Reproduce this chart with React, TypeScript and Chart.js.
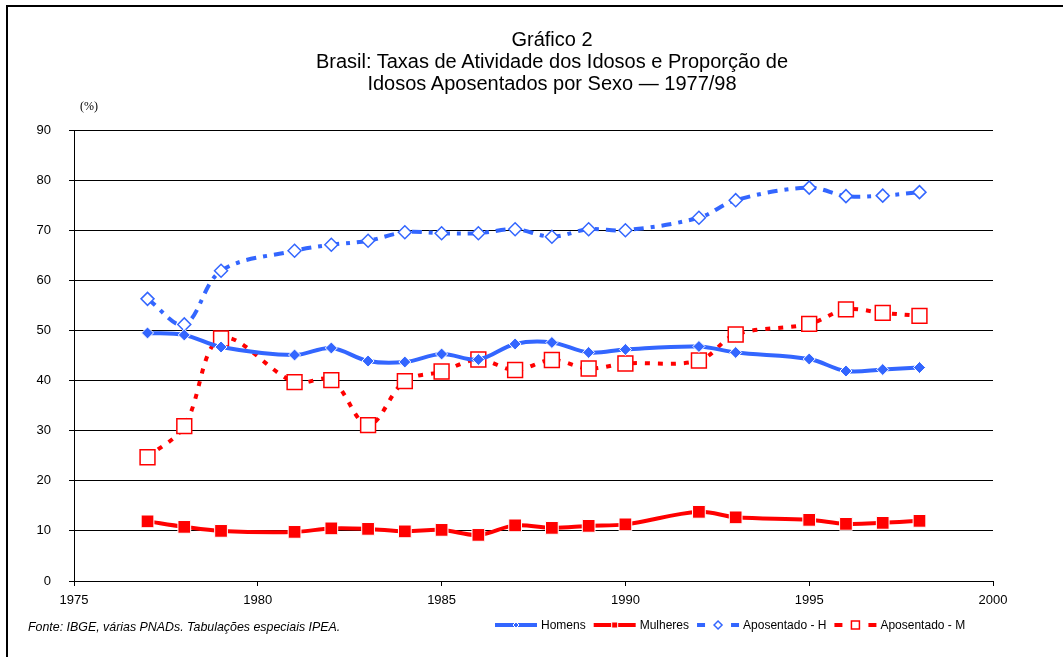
import React, { useEffect, useRef } from "react";
import { Chart, registerables } from "chart.js";
Chart.register(...registerables);

const years = [1977, 1978, 1979, 1981, 1982, 1983, 1984, 1985, 1986, 1987, 1988, 1989, 1990, 1992, 1993, 1995, 1996, 1997, 1998];
const homens = [49.5, 49.1, 46.7, 45.1, 46.5, 43.9, 43.7, 45.3, 44.2, 47.3, 47.6, 45.6, 46.2, 46.8, 45.6, 44.3, 41.9, 42.2, 42.6];
const mulheres = [11.9, 10.8, 10.0, 9.8, 10.5, 10.4, 9.9, 10.2, 9.2, 11.1, 10.6, 11.0, 11.3, 13.8, 12.7, 12.2, 11.4, 11.6, 12.0];
const aposentadoH = [56.3, 51.2, 61.9, 65.9, 67.1, 67.9, 69.6, 69.4, 69.4, 70.2, 68.7, 70.2, 70.0, 72.5, 76.0, 78.5, 76.8, 76.9, 77.6];
const aposentadoM = [24.7, 30.9, 48.4, 39.7, 40.1, 31.1, 39.9, 41.8, 44.2, 42.1, 44.1, 42.4, 43.4, 44.0, 49.2, 51.3, 54.2, 53.5, 52.9];

const seriesLabels = ["Homens", "Mulheres", "Aposentado - H", "Aposentado - M"];
const titleLines = [
  "Gráfico 2",
  "Brasil: Taxas de Atividade dos Idosos e Proporção de",
  "Idosos Aposentados por Sexo — 1977/98",
];
const sourceNote = "Fonte: IBGE, várias PNADs. Tabulações especiais IPEA.";
const unitLabel = "(%)";

const BLUE = "#3366ff";
const RED = "#ff0000";
const FONT = '"Liberation Sans", Arial, sans-serif';

const toPoints = (vals: number[]) => years.map((y, i) => ({ x: y, y: vals[i] }));

function drawMarker(ctx: CanvasRenderingContext2D, kind: string, cx: number, cy: number, r: number, fill: string, stroke: string, lw: number) {
  ctx.beginPath();
  if (kind === "diamond") {
    ctx.moveTo(cx - r, cy);
    ctx.lineTo(cx, cy - r);
    ctx.lineTo(cx + r, cy);
    ctx.lineTo(cx, cy + r);
    ctx.closePath();
  } else {
    ctx.rect(cx - r, cy - r, 2 * r, 2 * r);
  }
  ctx.fillStyle = fill;
  ctx.fill();
  ctx.lineWidth = lw;
  ctx.strokeStyle = stroke;
  ctx.stroke();
}

const legendPlugin = {
  id: "customLegend",
  afterDraw(chart: any) {
    const ctx: CanvasRenderingContext2D = chart.ctx;
    const y = 625;
    let x = 495;
    ctx.save();
    ctx.font = `12px ${FONT}`;
    ctx.textBaseline = "middle";
    chart.data.datasets.forEach((ds: any) => {
      ctx.strokeStyle = ds.borderColor;
      ctx.lineWidth = 4;
      ctx.setLineDash(ds.legendDash || []);
      ctx.beginPath();
      ctx.moveTo(x, y);
      ctx.lineTo(x + 42, y);
      ctx.stroke();
      ctx.setLineDash([]);
      drawMarker(ctx, ds.markerKind, x + 21, y, ds.legendR, ds.pointBackgroundColor, ds.legendStroke, ds.legendLw);
      ctx.fillStyle = "#000";
      ctx.fillText(ds.label, x + 46, y + 1);
      x += 46 + ctx.measureText(ds.label).width + 8;
    });
    ctx.restore();
  },
};

export default function App() {
  const canvasRef = useRef<HTMLCanvasElement | null>(null);

  useEffect(() => {
    if (!canvasRef.current) return;
    const chart = new Chart(canvasRef.current, {
      type: "line",
      data: {
        datasets: [
          {
            label: seriesLabels[0],
            data: toPoints(homens),
            borderColor: BLUE,
            borderWidth: 4,
            tension: 0.35,
            pointStyle: "rectRot",
            pointRadius: 6,
            pointBackgroundColor: BLUE,
            pointBorderColor: "#ffffff",
            pointBorderWidth: 1,
            markerKind: "diamond",
            legendR: 3,
            legendStroke: "#ffffff",
            legendLw: 1,
          } as any,
          {
            label: seriesLabels[1],
            data: toPoints(mulheres),
            borderColor: RED,
            borderWidth: 4,
            tension: 0.35,
            pointStyle: "rect",
            pointRadius: 9,
            pointBackgroundColor: RED,
            pointBorderColor: "#ffffff",
            pointBorderWidth: 1,
            markerKind: "square",
            legendR: 3,
            legendStroke: "#ffffff",
            legendLw: 1,
          } as any,
          {
            label: seriesLabels[2],
            data: toPoints(aposentadoH),
            borderColor: BLUE,
            borderWidth: 4,
            borderDash: [10, 7, 4, 7],
            tension: 0.35,
            pointStyle: "rectRot",
            pointRadius: 6.5,
            pointBackgroundColor: "#ffffff",
            pointBorderColor: BLUE,
            pointBorderWidth: 1.5,
            markerKind: "diamond",
            legendR: 4,
            legendStroke: BLUE,
            legendLw: 1.5,
            legendDash: [8, 26],
          } as any,
          {
            label: seriesLabels[3],
            data: toPoints(aposentadoM),
            borderColor: RED,
            borderWidth: 4,
            borderDash: [5, 8],
            tension: 0.35,
            pointStyle: "rect",
            pointRadius: 10.5,
            pointBackgroundColor: "#ffffff",
            pointBorderColor: RED,
            pointBorderWidth: 1.5,
            markerKind: "square",
            legendR: 4,
            legendStroke: RED,
            legendLw: 1.5,
            legendDash: [8, 26],
          } as any,
        ],
      },
      options: {
        responsive: false,
        animation: false,
        devicePixelRatio: 1,
        layout: { padding: { top: 130, right: 70, left: 0, bottom: 0 } },
        plugins: { legend: { display: false }, title: { display: false }, tooltip: { enabled: false } },
        scales: {
          x: {
            type: "linear",
            min: 1975,
            max: 2000,
            afterFit: (s: any) => {
              s.height = 76;
            },
            ticks: {
              stepSize: 5,
              color: "#000",
              font: { family: FONT, size: 13 },
              padding: 7,
              maxRotation: 0,
              callback: (v: any) => String(v),
            },
            grid: { drawOnChartArea: false, drawTicks: true, tickLength: 5, color: "#000" },
            border: { display: true, color: "#000", width: 1 },
          },
          y: {
            min: 0,
            max: 90,
            afterFit: (s: any) => {
              s.width = 74;
            },
            ticks: {
              stepSize: 10,
              color: "#000",
              font: { family: FONT, size: 13 },
              padding: 18,
            },
            grid: { drawOnChartArea: true, drawTicks: true, tickLength: 5, color: "#000", lineWidth: 1 },
            border: { display: true, color: "#000", width: 1 },
          },
        },
      },
      plugins: [legendPlugin],
    } as any);
    return () => chart.destroy();
  }, []);

  return (
    <div style={{ position: "absolute", left: 0, top: 0, width: 1063, height: 657, background: "#fff", overflow: "hidden" }}>
      <canvas ref={canvasRef} width={1063} height={657} style={{ position: "absolute", left: 0, top: 0, width: 1063, height: 657 }} />
      <div style={{ position: "absolute", left: 6, top: 5, width: 1100, height: 700, borderTop: "2px solid #000", borderLeft: "2px solid #000", pointerEvents: "none" }} />
      <div style={{ position: "absolute", left: 252, top: 28, width: 600, textAlign: "center", fontFamily: FONT, fontSize: 20, lineHeight: "22px", color: "#000" }}>
        {titleLines.map((t, i) => (
          <div key={i}>{t}</div>
        ))}
      </div>
      <div style={{ position: "absolute", left: 80, top: 99, fontFamily: '"Liberation Serif", "Times New Roman", serif', fontSize: 12, color: "#000" }}>{unitLabel}</div>
      <div style={{ position: "absolute", left: 28, top: 620, fontFamily: FONT, fontStyle: "italic", fontSize: 12.4, color: "#000" }}>{sourceNote}</div>
    </div>
  );
}
